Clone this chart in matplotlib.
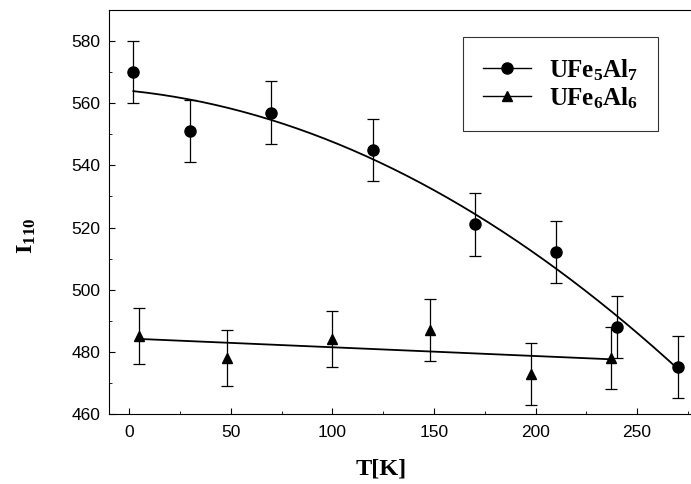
import numpy as np
import matplotlib.pyplot as plt
from matplotlib.ticker import MultipleLocator

plt.rcParams['mathtext.default'] = 'regular'

# UFe5Al7 data
t_fe5 = [2, 30, 70, 120, 170, 210, 240, 270]
i_fe5 = [570, 551, 557, 545, 521, 512, 488, 475]
err_fe5 = [10, 10, 10, 10, 10, 10, 10, 10]

# UFe6Al6 data
t_fe6 = [5, 48, 100, 148, 198, 237]
i_fe6 = [485, 478, 484, 487, 473, 478]
err_fe6 = [9, 9, 9, 10, 10, 10]

x_ticks = [0, 50, 100, 150, 200, 250]
y_ticks = [460, 480, 500, 520, 540, 560, 580]

fig = plt.figure(figsize=(6.91, 4.84), dpi=100)
ax = fig.add_axes([109 / 691, 70 / 484, 589 / 691, 404 / 484])

# fitted curves
p5 = np.polyfit(t_fe5, i_fe5, 2)
tt5 = np.linspace(min(t_fe5), max(t_fe5), 200)
ax.plot(tt5, np.polyval(p5, tt5), color='black', lw=1.3)
p6 = np.polyfit(t_fe6, i_fe6, 1)
tt6 = np.linspace(min(t_fe6), max(t_fe6), 50)
ax.plot(tt6, np.polyval(p6, tt6), color='black', lw=1.3)

ax.errorbar(t_fe5, i_fe5, yerr=err_fe5, fmt='o', color='black', ms=8,
            capsize=4, elinewidth=0.9, capthick=0.9)
ax.errorbar(t_fe6, i_fe6, yerr=err_fe6, fmt='^', color='black', ms=7,
            capsize=4, elinewidth=0.9, capthick=0.9)

ax.set_xlim(-10, 280)
ax.set_ylim(460, 590)
ax.set_xticks(x_ticks)
ax.set_yticks(y_ticks)
ax.xaxis.set_minor_locator(MultipleLocator(25))
ax.yaxis.set_minor_locator(MultipleLocator(10))
ax.tick_params(which='both', direction='in', top=False, right=False,
               labelsize=12.5)
ax.tick_params(which='major', length=4)
ax.tick_params(which='minor', length=2.5)
for lab in ax.get_xticklabels() + ax.get_yticklabels():
    lab.set_fontfamily('Liberation Sans')
ax.tick_params(axis='x', pad=8)
ax.tick_params(axis='y', pad=6)

serif = dict(family='Liberation Serif', fontweight='bold', fontsize=17.5)
ax.set_xlabel('T[K]', **serif)
ax.xaxis.set_label_coords((381 - 109) / 589, -(458 - 414) / 404)
ax.set_ylabel('I$_{110}$', **serif)
ax.yaxis.set_label_coords(-(109 - 38) / 589, (414 - 236) / 404)

h1, = ax.plot([], [], 'o-', color='black', ms=8, lw=1)
h2, = ax.plot([], [], '^-', color='black', ms=7, lw=1)
leg = ax.legend([h1, h2], ['UFe$_5$Al$_7$', 'UFe$_6$Al$_6$'],
                loc='upper left', bbox_to_anchor=((463 - 109) / 589, (414 - 37) / 404),
                borderaxespad=0,
                prop=dict(family='Liberation Serif', weight='bold', size=18),
                frameon=True, fancybox=False, edgecolor='black',
                handlelength=1.9, handletextpad=0.75, borderpad=0.8,
                labelspacing=0.1)
leg.get_frame().set_linewidth(0.8)

fig.savefig('out.png', dpi=100)
